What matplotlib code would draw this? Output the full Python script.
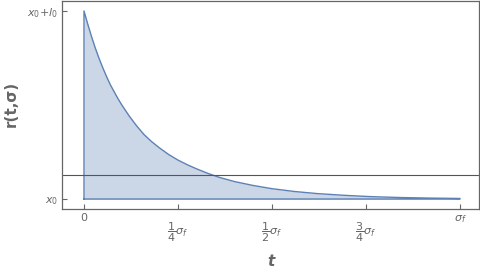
import matplotlib
matplotlib.use("Agg")
import matplotlib.pyplot as plt
from matplotlib.transforms import ScaledTranslation

# curve (t in units of sigma_f, r in units of l0 above x0)
t = [0, 0.01, 0.02, 0.03, 0.04, 0.05, 0.06, 0.07, 0.08, 0.09, 0.10,
     0.12, 0.14, 0.16, 0.18, 0.20, 0.225, 0.25, 0.275, 0.30, 0.33,
     0.36, 0.40, 0.45, 0.50, 0.56, 0.62, 0.69, 0.76, 0.84, 0.92, 1.0]
r = [1.0, 0.930, 0.864, 0.803, 0.748, 0.698, 0.651, 0.608, 0.571, 0.535, 0.502,
     0.442, 0.389, 0.342, 0.305, 0.273, 0.237, 0.207, 0.182, 0.160, 0.136,
     0.115, 0.093, 0.072, 0.055, 0.040, 0.029, 0.020, 0.013, 0.008, 0.005, 0.003]
hline = 0.129

xticks = [0, 0.25, 0.5, 0.75, 1.0]
xticklabels = ['0', r'$\dfrac{1}{4}\sigma_f$', r'$\dfrac{1}{2}\sigma_f$',
               r'$\dfrac{3}{4}\sigma_f$', r'$\sigma_f$']
yticks = [0, 1]
yticklabels = [r'$x_0$', r'$x_0{+}l_0$']

line_c = '#5E81B5'
gray = '#666666'
plt.rcParams['mathtext.fontset'] = 'dejavusans'

fig = plt.figure(figsize=(4.8, 2.71), dpi=100)
ax = fig.add_axes([62/480, 1-209/271, 417/480, 208/271])

# closed outline: vertical edge at t=0, curve, baseline at x0
tt = [0] + t + [t[-1], 0]
rr = [0] + r + [0, 0]
ax.fill_between(t, r, 0, color=line_c, alpha=0.32, lw=0)
ax.plot(tt, rr, color=line_c, lw=1.0)
ax.axhline(hline, color='#555555', lw=0.8)

ax.set_xlim(-0.0585, 1.0505)
ax.set_ylim(-0.053, 1.053)
ax.set_xticks(xticks)
ax.set_xticklabels(xticklabels)
ax.set_yticks(yticks)
ax.set_yticklabels(yticklabels)
ax.tick_params(direction='in', length=3.5, width=0.8, color=gray,
               labelcolor=gray, labelsize=8, pad=3)
for s in ax.spines.values():
    s.set_color(gray)
    s.set_linewidth(0.9)

# fractions sit a bit lower than the plain labels
shift = ScaledTranslation(0, -5/72, fig.dpi_scale_trans)
for lbl in ax.get_xticklabels()[1:4]:
    lbl.set_transform(lbl.get_transform() + shift)

fig.text(11/480, 1-104/271, 'r(t,σ)', rotation=90, ha='center', va='center',
         fontsize=11, fontweight='bold', color=gray)
fig.text(271/480, 1-261/271, 't', ha='center', va='center', fontsize=11,
         fontweight='bold', fontstyle='italic', color=gray)

fig.savefig('out.png', dpi=100)
